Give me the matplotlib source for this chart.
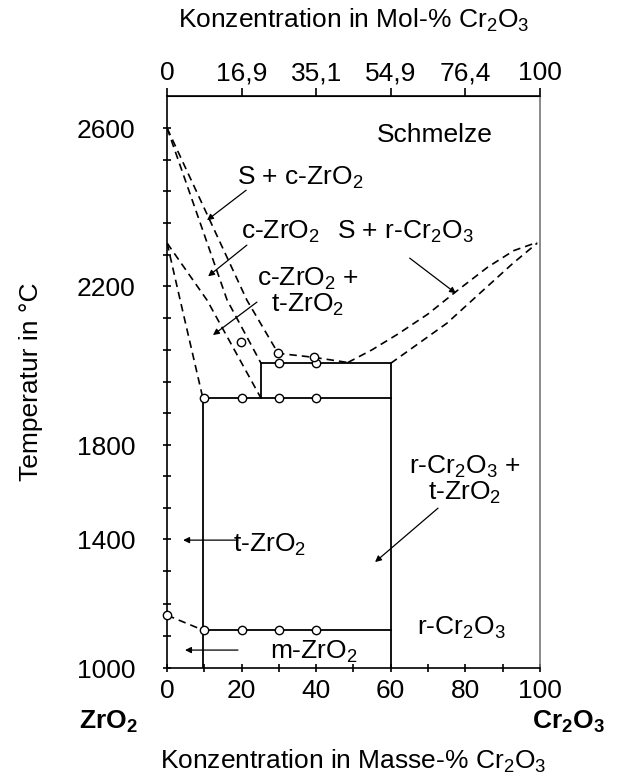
import numpy as np
import matplotlib
matplotlib.use('Agg')
import matplotlib.pyplot as plt
from matplotlib.ticker import FixedLocator

plt.rcParams['font.family'] = ['Liberation Sans', 'DejaVu Sans']
plt.rcParams['mathtext.default'] = 'regular'
plt.rcParams['font.size'] = 19

# ---- data (mass-% Cr2O3, temperature in C) ----
# liquidus ZrO2 side and Cr2O3 side
liq_left_x = [0, 21.4, 29.8, 39.4, 48.5]
liq_left_t = [2600, 2165, 2031, 2021, 2008]
liq_right_x = [48.5, 55.0, 62.0, 70.0, 78.0, 86.0, 93.0, 99.3]
liq_right_t = [2008, 2040, 2080, 2130, 2190, 2248, 2290, 2311]
# solidus of r-Cr2O3
sol_cr_x = [60, 66.0, 75.1, 83.9, 92.8, 99.3]
sol_cr_t = [2006, 2046, 2107, 2182, 2258, 2309]
# c-ZrO2 solidus, c/c+t and c+t/t boundaries
sol_c_x = [0, 16.1, 25.2]
sol_c_t = [2600, 2165, 2006]
ct_upper_x = [0, 10.7, 25.2]
ct_upper_t = [2309, 2165, 1918]
ct_lower_x = [0, 3.5, 9.6]
ct_lower_t = [2309, 2165, 1918]
mt_x = [0, 9.6]
mt_t = [1164, 1118]

# solid phase boundaries
eut_t = 1918
peri_t = 2006
eutd_t = 1118
x_t_lim = 9.6
x_c_lim = 25.2
x_cr_lim = 60

# measured points
pts_x = [10, 20, 30, 40, 30, 40, 29.8, 39.4, 19.8, 0, 10, 20, 30, 40]
pts_t = [1918, 1918, 1918, 1918, 2006, 2006, 2031, 2021, 2059, 1164, 1118, 1118, 1118, 1118]

mass_ticks = [0, 20, 40, 60, 80, 100]
mass_minor = [10, 30, 50, 70, 90]
mol_labels = ['0', '16,9', '35,1', '54,9', '76,4', '100']
t_ticks = [1000, 1400, 1800, 2200, 2600]
t_minor = [1100, 1200, 1300, 1533, 1667, 1880, 1960, 2040, 2120, 2280, 2360, 2440, 2520]

# the temperature axis of the original drawing is not linear
axis_t = np.array([1000, 1400, 1800, 2200, 2600, 2700])
axis_pos = np.array([0, 129, 223, 382, 540, 580.])


def t_fwd(t):
    t = np.asarray(t, dtype=float)
    lo = axis_pos[0] + (t - axis_t[0]) * (axis_pos[1] - axis_pos[0]) / (axis_t[1] - axis_t[0])
    hi = axis_pos[-1] + (t - axis_t[-1]) * (axis_pos[-1] - axis_pos[-2]) / (axis_t[-1] - axis_t[-2])
    return np.where(t < axis_t[0], lo, np.where(t > axis_t[-1], hi, np.interp(t, axis_t, axis_pos)))


def t_inv(p):
    p = np.asarray(p, dtype=float)
    lo = axis_t[0] + (p - axis_pos[0]) * (axis_t[1] - axis_t[0]) / (axis_pos[1] - axis_pos[0])
    hi = axis_t[-1] + (p - axis_pos[-1]) * (axis_t[-1] - axis_t[-2]) / (axis_pos[-1] - axis_pos[-2])
    return np.where(p < axis_pos[0], lo, np.where(p > axis_pos[-1], hi, np.interp(p, axis_pos, axis_t)))


fig = plt.figure(figsize=(6.19, 7.76), dpi=100)
ax = fig.add_axes([0.270, 0.139, 0.602, 0.737])
ax.set_yscale('function', functions=(t_fwd, t_inv))
ax.set_xlim(0, 100)
ax.set_ylim(1000, 2680)

dash = (0, (4.5, 3))
kw = dict(color='k', lw=1.2, ls=dash)
for xs, ts in [(liq_left_x, liq_left_t), (liq_right_x, liq_right_t), (sol_cr_x, sol_cr_t),
               (sol_c_x, sol_c_t), (ct_upper_x, ct_upper_t), (ct_lower_x, ct_lower_t), (mt_x, mt_t)]:
    ax.plot(xs, ts, **kw)

sk = dict(color='k', lw=1.3)
ax.plot([x_t_lim, x_t_lim], [1000, eut_t], **sk)
ax.plot([x_t_lim, x_cr_lim], [eut_t, eut_t], **sk)
ax.plot([x_c_lim, x_c_lim], [eut_t, peri_t], **sk)
ax.plot([x_c_lim, x_cr_lim], [peri_t, peri_t], **sk)
ax.plot([x_cr_lim, x_cr_lim], [peri_t, 1000], **sk)
ax.plot([x_t_lim, x_cr_lim], [eutd_t, eutd_t], **sk)

ax.plot(pts_x, pts_t, 'o', ms=6, mfc='white', mec='k', mew=1.0, ls='none', clip_on=False, zorder=5)

# region labels with pointers
ap = dict(arrowstyle='-|>', color='k', lw=0.9, mutation_scale=9, shrinkA=0, shrinkB=0)
ax.annotate('', xy=(10.7, 2367), xytext=(21.2, 2443), arrowprops=ap)
ax.annotate('', xy=(11.0, 2225), xytext=(21.4, 2304), arrowprops=ap)
ax.annotate('', xy=(12.3, 2077), xytext=(24.1, 2160), arrowprops=ap)
ax.annotate('', xy=(77.5, 2182), xytext=(65.1, 2271), arrowprops=ap)
ax.annotate('', xy=(55.8, 1329), xytext=(72.7, 1532), arrowprops=ap)
ax.annotate('', xy=(4.3, 1397), xytext=(19.0, 1397), arrowprops=ap)
ax.annotate('', xy=(4.8, 1056), xytext=(19.0, 1056), arrowprops=ap)

ax.text(71.8, 2582, 'Schmelze', ha='center', va='center')
ax.text(35.7, 2473, r'S + c-ZrO$_2$', ha='center', va='center')
ax.text(30.3, 2337, r'c-ZrO$_2$', ha='center', va='center')
ax.text(37.8, 2185, 'c-ZrO$_2$ +\nt-ZrO$_2$', ha='center', va='center', linespacing=1.0)
ax.text(63.8, 2337, r'S + r-Cr$_2$O$_3$', ha='center', va='center')
ax.text(79.9, 1651, 'r-Cr$_2$O$_3$ +\nt-ZrO$_2$', ha='center', va='center', linespacing=1.0)
ax.text(27.6, 1381, r't-ZrO$_2$', ha='center', va='center')
ax.text(79.1, 1124, r'r-Cr$_2$O$_3$', ha='center', va='center')
ax.text(39.5, 1050, r'm-ZrO$_2$', ha='center', va='center')

ax.yaxis.set_major_locator(FixedLocator(t_ticks))
ax.yaxis.set_minor_locator(FixedLocator(t_minor))
ax.set_yticklabels([str(t) for t in t_ticks])
ax.set_xticks(mass_ticks)
ax.set_xticks(mass_minor, minor=True)
ax.tick_params(which='both', direction='inout', length=6, width=1.2, top=False, right=False)
ax.tick_params(axis='y', pad=20)
ax.tick_params(axis='x', pad=5)
for s in ax.spines.values():
    s.set_linewidth(1.2)
ax.spines['right'].set_color('#777777')

ax.set_ylabel('Temperatur in °C', labelpad=24)
ax.set_xlabel(r'Konzentration in Masse-% Cr$_2$O$_3$', labelpad=32)

ax2 = ax.secondary_xaxis('top')
ax2.set_xticks(mass_ticks)
ax2.set_xticklabels(mol_labels)
ax2.tick_params(direction='out', length=6, width=1.2, pad=2)
ax2.set_xlabel(r'Konzentration in Mol-% Cr$_2$O$_3$', labelpad=24)

fig.text(0.175, 0.07, r'ZrO$_2$', ha='center', va='center', fontweight='bold')
fig.text(0.918, 0.07, r'Cr$_2$O$_3$', ha='center', va='center', fontweight='bold')

fig.savefig('out.png', dpi=100)
